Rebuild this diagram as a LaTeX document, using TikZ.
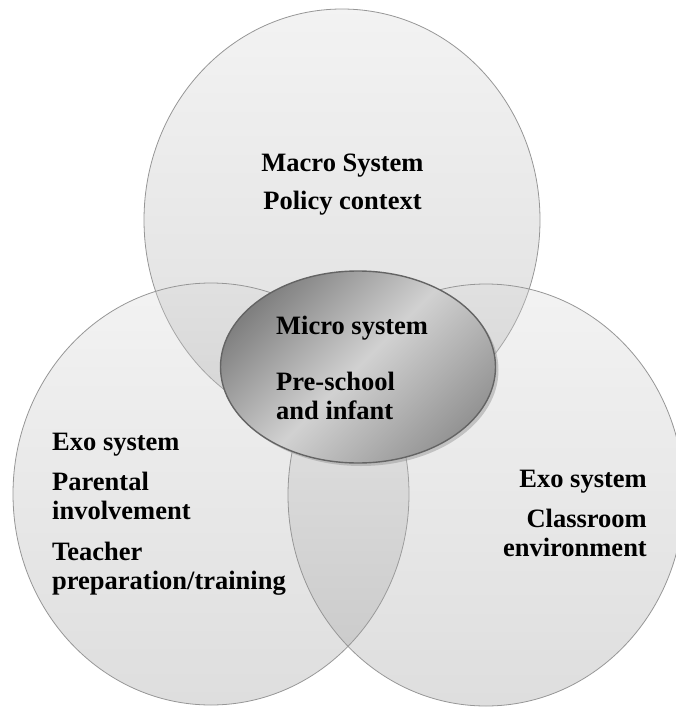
\documentclass[tikz,border=0pt]{standalone}
\usepackage{fontspec}
\setmainfont{Liberation Serif}
\usepackage{tikz}
\usetikzlibrary{shapes.geometric,shadows,positioning}
\definecolor{ringEdge}{RGB}{150,150,150}
\definecolor{coreEdge}{RGB}{100,100,100}

\begin{document}
\begin{tikzpicture}[x=1pt,y=-1pt,
    ring/.style={ellipse,inner sep=0pt,minimum width=396pt,minimum height=422pt,
        draw=ringEdge,line width=0.8pt,top color=black!16,bottom color=black!43,fill opacity=0.3},
    core/.style={ellipse,inner sep=0pt,minimum width=275pt,minimum height=192pt,
        draw=coreEdge,line width=1.4pt,top color=black!50,bottom color=black!42,middle color=black!18,
        shading angle=45,drop shadow={shadow xshift=3pt,shadow yshift=-3pt,fill=black!40,opacity=0.5}},
    systxt/.style={font=\fontsize{26.5}{28.5}\selectfont\bfseries,inner sep=0pt}]
    \useasboundingbox (0,0) rectangle (675,707);

    % the three outer systems
    \foreach \nm/\cx/\cy in {macroRing/342/220, exoLRing/211/494, exoRRing/486/495} {
        \node[ring] (\nm) at (\cx,\cy) {};
    }
    % micro system in the middle
    \node[core] (microCore) at (358,367) {};

    % texts (base = last line)
    \node[systxt,align=center,anchor=base] (macroTxt) at (342.5,209) {Macro System\\[9pt]Policy context};
    \node[systxt,align=left,anchor=base west] (microTxt) at (276,419) {Micro system\\[28pt]Pre-school\\and infant};
    \node[systxt,align=left,anchor=base west] (exoLTxt) at (52,589) {Exo system\\[12pt]Parental\\involvement\\[13pt]Teacher\\preparation/training};
    \node[systxt,align=right,anchor=base east] (exoRTxt) at (647,556) {Exo system\\[12pt]Classroom\\environment};
\end{tikzpicture}
\end{document}
